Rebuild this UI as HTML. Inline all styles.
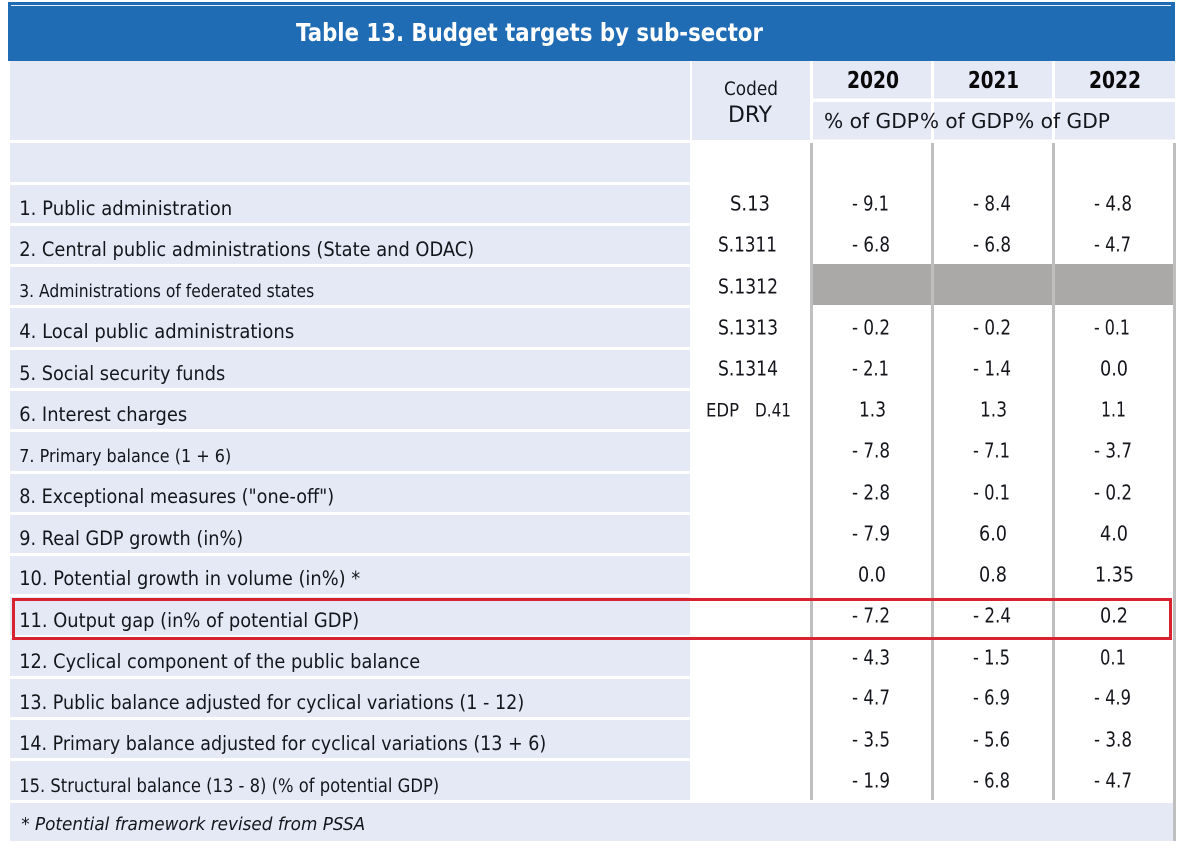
<!DOCTYPE html>
<html lang="en">
<head>
<meta charset="utf-8">
<title>Table 13. Budget targets by sub-sector</title>
<style>
html,body{margin:0;padding:0;background:#fff;width:1181px;height:852px;overflow:hidden}
svg{display:block}
text{font-family:"DejaVu Sans","Liberation Sans",sans-serif;fill:#14161c;font-size:19px}
.lab{font-size:19.5px}
.sm{font-size:17.5px}
.val{font-size:20px}
.cell{fill:#e5e9f6}
.rule{fill:#bfbfbf}
.hd{font-weight:bold;font-size:23px;fill:#0a0a0a}
</style>
</head>
<body>
<svg width="1181" height="852" viewBox="0 0 1181 852">
<rect x="8" y="2" width="1167" height="59" fill="#1f6cb5"/>
<rect x="11" y="5" width="1160" height="1" fill="#e8eef7"/>
<text x="296" y="41" font-weight="bold" style="font-size:24.5px;fill:#fff" textLength="467" lengthAdjust="spacingAndGlyphs">Table 13. Budget targets by sub-sector</text>

<g>
<rect class="cell" x="10" y="61" width="680" height="79"/>
<rect class="cell" x="692" y="61" width="118" height="79"/>
<rect class="cell" x="813" y="61" width="118" height="37.5"/>
<rect class="cell" x="934" y="61" width="118" height="37.5"/>
<rect class="cell" x="1055" y="61" width="120" height="37.5"/>
<rect class="cell" x="813" y="102" width="118" height="37.5"/>
<rect class="cell" x="934" y="102" width="118" height="37.5"/>
<rect class="cell" x="1055" y="102" width="120" height="37.5"/>
</g>

<g>
<rect class="cell" x="10" y="143" width="680" height="39"/>
<rect class="cell" x="10" y="185" width="680" height="38"/>
<rect class="cell" x="10" y="226" width="680" height="38"/>
<rect class="cell" x="10" y="267" width="680" height="38"/>
<rect class="cell" x="10" y="308" width="680" height="39"/>
<rect class="cell" x="10" y="350" width="680" height="38"/>
<rect class="cell" x="10" y="391" width="680" height="38"/>
<rect class="cell" x="10" y="432" width="680" height="39"/>
<rect class="cell" x="10" y="474" width="680" height="38"/>
<rect class="cell" x="10" y="515" width="680" height="38"/>
<rect class="cell" x="10" y="556" width="680" height="38"/>
<rect class="cell" x="10" y="597" width="680" height="38"/>
<rect class="cell" x="10" y="638" width="680" height="38"/>
<rect class="cell" x="10" y="679" width="680" height="38"/>
<rect class="cell" x="10" y="720" width="680" height="38"/>
<rect class="cell" x="10" y="761" width="680" height="39"/>
<rect class="cell" x="10" y="803" width="1163" height="38"/>
</g>

<g>
<rect class="rule" x="810" y="143" width="3" height="657"/>
<rect class="rule" x="931" y="143" width="3" height="657"/>
<rect class="rule" x="1052" y="143" width="3" height="657"/>
<rect class="rule" x="1173" y="143" width="3" height="698"/>
</g>

<g>
<rect x="813" y="264" width="118" height="41" fill="#aaa9a8"/>
<rect x="934" y="264" width="118" height="41" fill="#aaa9a8"/>
<rect x="1055" y="264" width="118" height="41" fill="#aaa9a8"/>
</g>

<g>
<text x="724" y="95" style="font-size:18.5px" textLength="54" lengthAdjust="spacingAndGlyphs">Coded</text>
<text x="728" y="122" style="font-size:22px" textLength="44" lengthAdjust="spacingAndGlyphs">DRY</text>
<text class="hd" x="847" y="88" textLength="52" lengthAdjust="spacingAndGlyphs">2020</text>
<text class="hd" x="968" y="88" textLength="51" lengthAdjust="spacingAndGlyphs">2021</text>
<text class="hd" x="1089" y="88" textLength="52" lengthAdjust="spacingAndGlyphs">2022</text>
<text x="824" y="128" style="font-size:20.5px" textLength="95" lengthAdjust="spacingAndGlyphs">% of GDP</text>
<text x="920" y="128" style="font-size:20.5px" textLength="94" lengthAdjust="spacingAndGlyphs">% of GDP</text>
<text x="1015" y="128" style="font-size:20.5px" textLength="95" lengthAdjust="spacingAndGlyphs">% of GDP</text>
</g>

<g transform="translate(-0.8,0)">
<text class="lab" x="20" y="215" textLength="213" lengthAdjust="spacingAndGlyphs">1. Public administration</text>
<text class="lab" x="20" y="256" textLength="455" lengthAdjust="spacingAndGlyphs">2. Central public administrations (State and ODAC)</text>
<text class="sm" x="20" y="297" textLength="295" lengthAdjust="spacingAndGlyphs">3. Administrations of federated states</text>
<text class="lab" x="20" y="338" textLength="275" lengthAdjust="spacingAndGlyphs">4. Local public administrations</text>
<text class="lab" x="20" y="380" textLength="206" lengthAdjust="spacingAndGlyphs">5. Social security funds</text>
<text class="lab" x="20" y="421" textLength="168" lengthAdjust="spacingAndGlyphs">6. Interest charges</text>
<text class="sm" x="20" y="462" textLength="212" lengthAdjust="spacingAndGlyphs">7. Primary balance (1 + 6)</text>
<text class="lab" x="20" y="503" textLength="315" lengthAdjust="spacingAndGlyphs">8. Exceptional measures ("one-off")</text>
<text class="lab" x="20" y="545" textLength="224" lengthAdjust="spacingAndGlyphs">9. Real GDP growth (in%)</text>
<text class="lab" x="20" y="585" textLength="341" lengthAdjust="spacingAndGlyphs">10. Potential growth in volume (in%) *</text>
<text class="lab" x="20" y="627" textLength="340" lengthAdjust="spacingAndGlyphs">11. Output gap (in% of potential GDP)</text>
<text class="lab" x="20" y="668" textLength="401" lengthAdjust="spacingAndGlyphs">12. Cyclical component of the public balance</text>
<text class="lab" x="20" y="709" textLength="505" lengthAdjust="spacingAndGlyphs">13. Public balance adjusted for cyclical variations (1 - 12)</text>
<text class="lab" x="20" y="750" textLength="527" lengthAdjust="spacingAndGlyphs">14. Primary balance adjusted for cyclical variations (13 + 6)</text>
<text class="sm" x="20" y="792" style="font-size:18.5px" textLength="420" lengthAdjust="spacingAndGlyphs">15. Structural balance (13 - 8) (% of potential GDP)</text>
<text class="sm" x="22" y="830" font-style="italic" textLength="344" lengthAdjust="spacingAndGlyphs">* Potential framework revised from PSSA</text>
</g>

<g transform="translate(0,-0.5)">
<text class="val" x="730" y="211" textLength="40" lengthAdjust="spacingAndGlyphs">S.13</text>
<text class="val" x="718" y="252" textLength="59" lengthAdjust="spacingAndGlyphs">S.1311</text>
<text class="val" x="718" y="294" textLength="60" lengthAdjust="spacingAndGlyphs">S.1312</text>
<text class="val" x="718" y="335" textLength="60" lengthAdjust="spacingAndGlyphs">S.1313</text>
<text class="val" x="718" y="376" textLength="60" lengthAdjust="spacingAndGlyphs">S.1314</text>
<text class="val" x="706" y="417" style="font-size:18.5px" textLength="33" lengthAdjust="spacingAndGlyphs">EDP</text>
<text class="val" x="755" y="417" style="font-size:18.5px" textLength="36" lengthAdjust="spacingAndGlyphs">D.41</text>
</g>

<g transform="translate(0,-0.5)">
<text class="val" x="852" y="211" textLength="37" lengthAdjust="spacingAndGlyphs">- 9.1</text>
<text class="val" x="852" y="252" textLength="38" lengthAdjust="spacingAndGlyphs">- 6.8</text>
<text class="val" x="852" y="335" textLength="38" lengthAdjust="spacingAndGlyphs">- 0.2</text>
<text class="val" x="852" y="376" textLength="37" lengthAdjust="spacingAndGlyphs">- 2.1</text>
<text class="val" x="859" y="417" textLength="27" lengthAdjust="spacingAndGlyphs">1.3</text>
<text class="val" x="852" y="458" textLength="38" lengthAdjust="spacingAndGlyphs">- 7.8</text>
<text class="val" x="852" y="500" textLength="38" lengthAdjust="spacingAndGlyphs">- 2.8</text>
<text class="val" x="852" y="541" textLength="38" lengthAdjust="spacingAndGlyphs">- 7.9</text>
<text class="val" x="858" y="582" textLength="28" lengthAdjust="spacingAndGlyphs">0.0</text>
<text class="val" x="852" y="623" textLength="38" lengthAdjust="spacingAndGlyphs">- 7.2</text>
<text class="val" x="852" y="665" textLength="38" lengthAdjust="spacingAndGlyphs">- 4.3</text>
<text class="val" x="852" y="705" textLength="38" lengthAdjust="spacingAndGlyphs">- 4.7</text>
<text class="val" x="852" y="747" textLength="38" lengthAdjust="spacingAndGlyphs">- 3.5</text>
<text class="val" x="852" y="788" textLength="38" lengthAdjust="spacingAndGlyphs">- 1.9</text>
</g>

<g transform="translate(0,-0.5)">
<text class="val" x="973" y="211" textLength="38" lengthAdjust="spacingAndGlyphs">- 8.4</text>
<text class="val" x="973" y="252" textLength="38" lengthAdjust="spacingAndGlyphs">- 6.8</text>
<text class="val" x="973" y="335" textLength="38" lengthAdjust="spacingAndGlyphs">- 0.2</text>
<text class="val" x="973" y="376" textLength="38" lengthAdjust="spacingAndGlyphs">- 1.4</text>
<text class="val" x="980" y="417" textLength="27" lengthAdjust="spacingAndGlyphs">1.3</text>
<text class="val" x="973" y="458" textLength="37" lengthAdjust="spacingAndGlyphs">- 7.1</text>
<text class="val" x="973" y="500" textLength="37" lengthAdjust="spacingAndGlyphs">- 0.1</text>
<text class="val" x="979" y="541" textLength="28" lengthAdjust="spacingAndGlyphs">6.0</text>
<text class="val" x="979" y="582" textLength="28" lengthAdjust="spacingAndGlyphs">0.8</text>
<text class="val" x="973" y="623" textLength="38" lengthAdjust="spacingAndGlyphs">- 2.4</text>
<text class="val" x="973" y="665" textLength="37" lengthAdjust="spacingAndGlyphs">- 1.5</text>
<text class="val" x="973" y="705" textLength="37" lengthAdjust="spacingAndGlyphs">- 6.9</text>
<text class="val" x="973" y="747" textLength="37" lengthAdjust="spacingAndGlyphs">- 5.6</text>
<text class="val" x="973" y="788" textLength="37" lengthAdjust="spacingAndGlyphs">- 6.8</text>
</g>

<g transform="translate(0,-0.5)">
<text class="val" x="1094" y="211" textLength="38" lengthAdjust="spacingAndGlyphs">- 4.8</text>
<text class="val" x="1094" y="252" textLength="37" lengthAdjust="spacingAndGlyphs">- 4.7</text>
<text class="val" x="1094" y="335" textLength="36" lengthAdjust="spacingAndGlyphs">- 0.1</text>
<text class="val" x="1100" y="376" textLength="28" lengthAdjust="spacingAndGlyphs">0.0</text>
<text class="val" x="1101" y="417" textLength="25" lengthAdjust="spacingAndGlyphs">1.1</text>
<text class="val" x="1094" y="458" textLength="38" lengthAdjust="spacingAndGlyphs">- 3.7</text>
<text class="val" x="1094" y="500" textLength="38" lengthAdjust="spacingAndGlyphs">- 0.2</text>
<text class="val" x="1100" y="541" textLength="28" lengthAdjust="spacingAndGlyphs">4.0</text>
<text class="val" x="1095" y="582" textLength="39" lengthAdjust="spacingAndGlyphs">1.35</text>
<text class="val" x="1100" y="623" textLength="28" lengthAdjust="spacingAndGlyphs">0.2</text>
<text class="val" x="1100" y="665" textLength="26" lengthAdjust="spacingAndGlyphs">0.1</text>
<text class="val" x="1094" y="705" textLength="37" lengthAdjust="spacingAndGlyphs">- 4.9</text>
<text class="val" x="1094" y="747" textLength="38" lengthAdjust="spacingAndGlyphs">- 3.8</text>
<text class="val" x="1094" y="788" textLength="38" lengthAdjust="spacingAndGlyphs">- 4.7</text>
</g>

<rect x="13.5" y="599.5" width="1157" height="39" fill="none" stroke="#d9222f" stroke-width="3"/>
</svg>
</body>
</html>
